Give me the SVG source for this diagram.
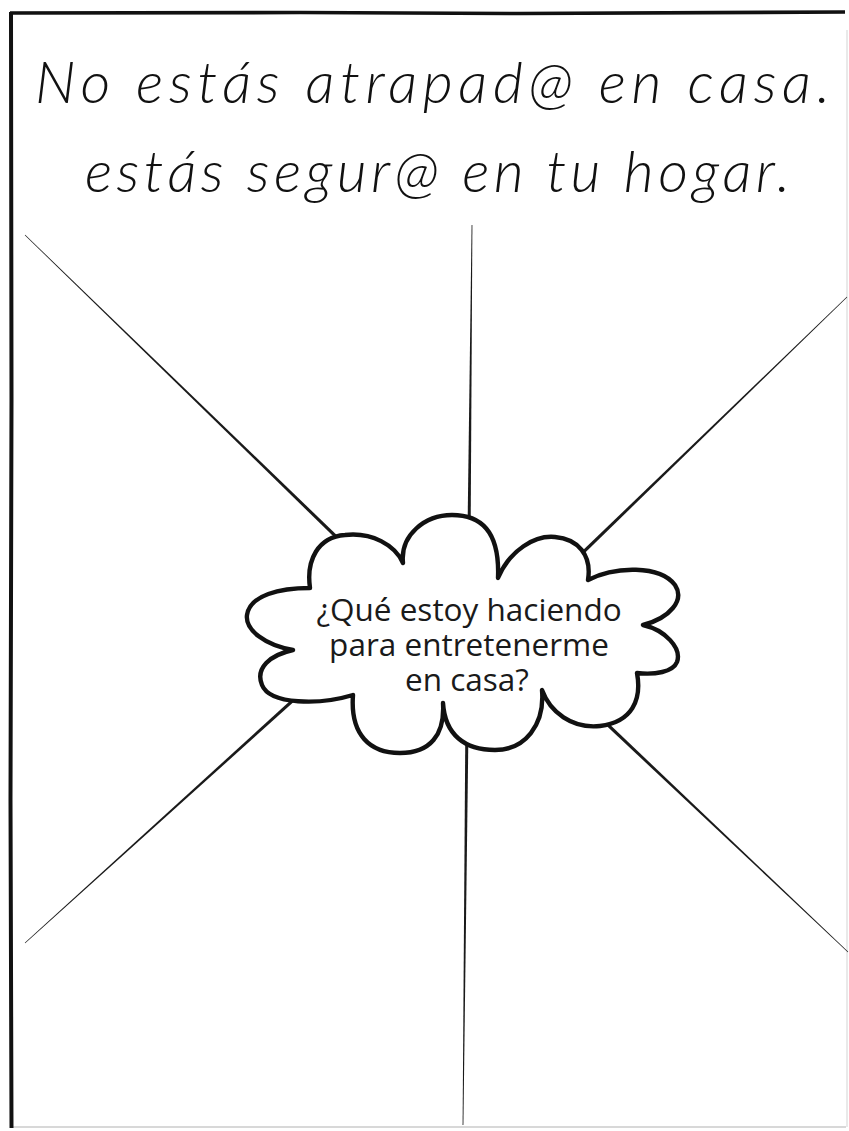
<svg xmlns="http://www.w3.org/2000/svg" width="849" height="1131" viewBox="0 0 849 1131">
<style>
.title{font-family:Lato,"Open Sans","Liberation Sans",sans-serif;font-style:italic;font-weight:300;font-size:58px;fill:#111}
.label{font-family:"Open Sans","Noto Sans","Liberation Sans",sans-serif;font-size:31.5px;fill:#1a1a1a;text-anchor:middle}
.ray{fill:#1a1a1a}
.cloud{fill:#fff;stroke:#111;stroke-width:4.4;stroke-linejoin:round;stroke-linecap:round}
</style>
<rect x="0" y="0" width="849" height="1131" fill="#fff"/>
<g id="frame">
  <line x1="847" y1="30" x2="847" y2="1127" stroke="#e2e2e2" stroke-width="1.5"/>
  <line x1="12" y1="1127" x2="846" y2="1127" stroke="#d8d8d8" stroke-width="2"/>
  <path d="M10,13 L300,12.5 L520,13.5 L845,12" fill="none" stroke="#111" stroke-width="3.6"/>
  <path d="M11,12 L11.5,400 L10.5,800 L11.5,1128" fill="none" stroke="#111" stroke-width="4"/>
</g>
<g id="title">
  <text class="title" x="35" y="103" textLength="795" lengthAdjust="spacing">No estás atrapad@ en casa.</text>
  <text class="title" x="85" y="192" textLength="705" lengthAdjust="spacing">estás segur@ en tu hogar.</text>
</g>
<g id="connectors">
  <polygon class="ray" points="24.79,235.22 353.82,556.22 356.18,553.78 25.21,234.78"/>
  <polygon class="ray" points="472.4,225 470.6,540 467.4,540 471.6,225"/>
  <polygon class="ray" points="847.21,297.22 571.18,566.22 568.82,563.78 846.79,296.78"/>
  <polygon class="ray" points="25.2,943.22 311.14,686.26 308.86,683.74 24.8,942.78"/>
  <polygon class="ray" points="463.4,1125 468.6,720 465.4,720 462.6,1125"/>
  <polygon class="ray" points="848.21,951.78 591.17,706.76 588.83,709.24 847.79,952.22"/>
</g>
<g id="cloud">
  <path class="cloud" d="M310,588 C306,560 318,537 345,535 C372,532 395,545 403,563 C400,535 425,515 452,515 C480,515 500,530 498,578 C510,550 535,535 555,537 C578,539 592,555 588,580 C615,566 660,565 675,585 C685,600 670,618 643,625 C665,630 682,648 677,662 C673,672 655,675 637,673 C642,700 632,722 600,726 C572,729 550,712 542,690 C545,725 525,750 495,750 C465,750 445,735 443,703 C445,735 430,753 400,753 C370,753 350,735 353,695 C320,705 270,705 262,685 C255,668 270,655 293,650 C265,645 245,630 247,615 C250,595 280,588 310,588 Z"/>
  <text class="label" x="469" y="621">¿Qué estoy haciendo</text>
  <text class="label" x="469" y="656">para entretenerme</text>
  <text class="label" x="467" y="691">en casa?</text>
</g>
</svg>
